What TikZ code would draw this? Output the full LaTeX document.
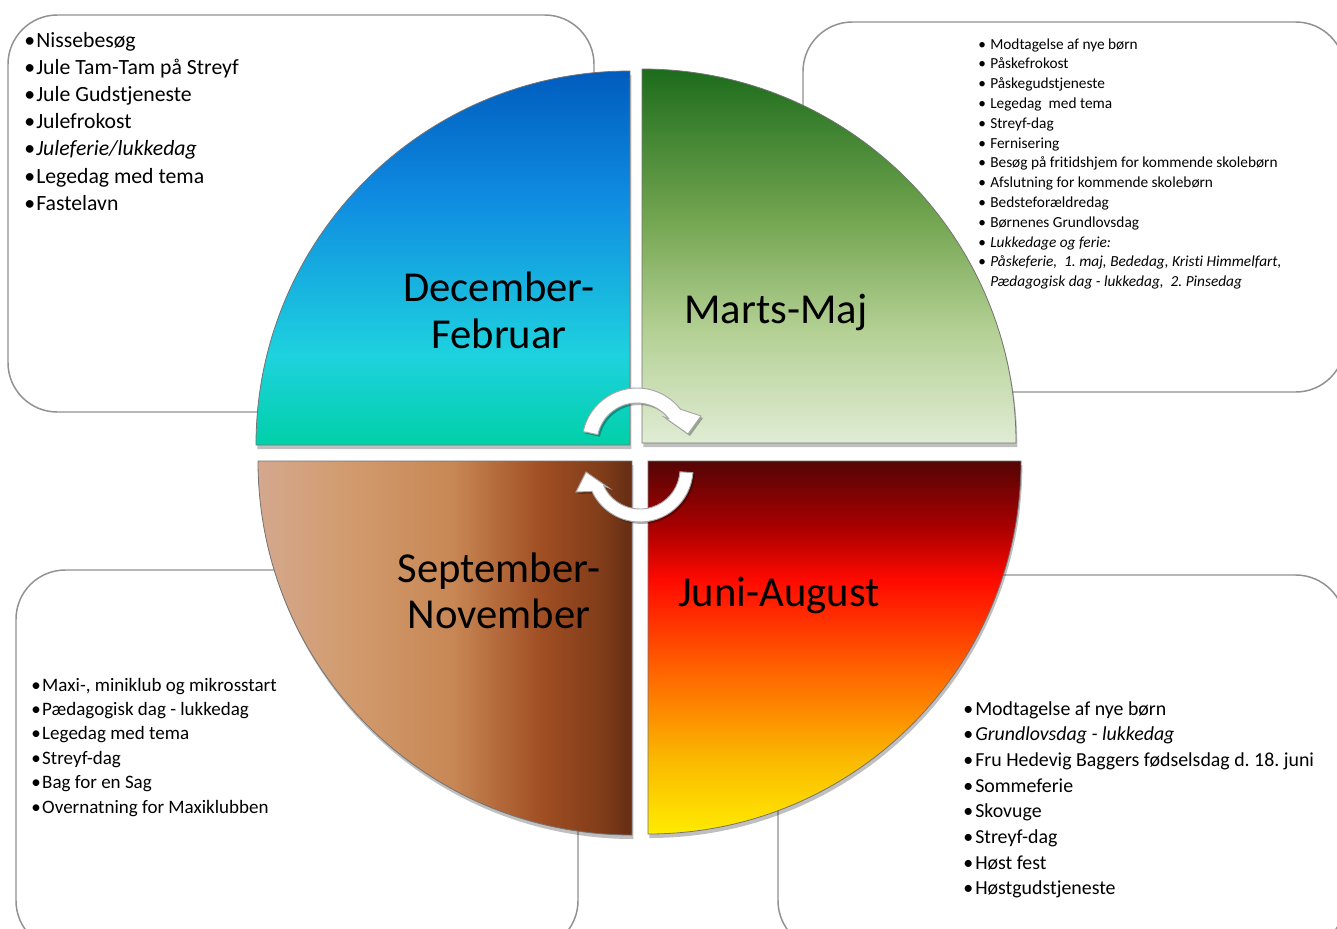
\documentclass[tikz,border=0pt]{standalone}
\usepackage{fontspec}
\setmainfont{Carlito}[Ligatures=NoCommon]
\usetikzlibrary{shadows,calc}
\frenchspacing
\definecolor{tlA}{RGB}{0,208,168}
\definecolor{tlB}{RGB}{30,210,222}
\definecolor{tlC}{RGB}{15,140,225}
\definecolor{tlD}{RGB}{0,92,190}
\definecolor{trA}{RGB}{224,236,212}
\definecolor{trB}{RGB}{180,208,148}
\definecolor{trC}{RGB}{115,165,80}
\definecolor{trD}{RGB}{28,108,28}
\definecolor{brA}{RGB}{255,235,0}
\definecolor{brB}{RGB}{250,185,0}
\definecolor{brC}{RGB}{255,110,0}
\definecolor{brD}{RGB}{255,10,0}
\definecolor{brE}{RGB}{170,0,0}
\definecolor{brF}{RGB}{85,5,5}
\definecolor{blA}{RGB}{212,168,142}
\definecolor{blB}{RGB}{210,155,110}
\definecolor{blC}{RGB}{200,135,85}
\definecolor{blD}{RGB}{160,78,35}
\definecolor{blE}{RGB}{128,60,25}
\definecolor{blF}{RGB}{100,45,20}
\definecolor{boxgray}{RGB}{145,145,145}
\pgfdeclareverticalshading{tlshade}{100bp}{color(0bp)=(tlA); color(25bp)=(tlA); color(37bp)=(tlB); color(58bp)=(tlC); color(75bp)=(tlD); color(100bp)=(tlD)}
\pgfdeclareverticalshading{trshade}{100bp}{color(0bp)=(trA); color(25bp)=(trA); color(40bp)=(trB); color(55bp)=(trC); color(75bp)=(trD); color(100bp)=(trD)}
\pgfdeclareverticalshading{brshade}{100bp}{color(0bp)=(brA); color(25bp)=(brA); color(35bp)=(brB); color(45.5bp)=(brC); color(59bp)=(brD); color(66bp)=(brE); color(75bp)=(brF); color(100bp)=(brF)}
\pgfdeclarehorizontalshading{blshade}{100bp}{color(0bp)=(blA); color(25bp)=(blA); color(37bp)=(blB); color(51bp)=(blC); color(63bp)=(blD); color(71bp)=(blE); color(75bp)=(blF); color(100bp)=(blF)}
\begin{document}
\begin{tikzpicture}[x=0.75pt,y=-0.75pt,
  box/.style={draw=boxgray, line width=1.1pt, rounded corners=37pt},
  quad/.style={draw=black!55, line width=0.6pt,
    drop shadow={shadow xshift=1pt, shadow yshift=-3pt, opacity=0.25, fill=black}},
  cyc/.style={fill=white, draw=black!35, line width=0.7pt,
    drop shadow={shadow xshift=1.5pt, shadow yshift=-1.5pt, opacity=0.3, fill=black}},
  title/.style={font=\fontsize{32}{36}\selectfont, anchor=base, inner sep=0pt},
  titlew/.style={font=\fontsize{32}{36}\selectfont, anchor=base west, inner sep=0pt},
  tli/.style={font=\fontsize{16.3}{19}\selectfont, anchor=base west, inner sep=0pt},
  tri/.style={font=\fontsize{11.5}{14}\selectfont, anchor=base west, inner sep=0pt},
  bli/.style={font=\fontsize{14.25}{17}\selectfont, anchor=base west, inner sep=0pt},
  bri/.style={font=\fontsize{14.9}{18}\selectfont, anchor=base west, inner sep=0pt}]
\useasboundingbox (0,0) rectangle (1337,928);
\fill[white] (0,0) rectangle (1337,928);
% text boxes
\draw[box] (8,15) rectangle (594,412);
\draw[box] (803,22) rectangle (1345,392);
\draw[box] (16,570) rectangle (578,950);
\draw[box] (778,575) rectangle (1345,950);
% quadrants
\path[quad, shading=tlshade] (630,445) -- (256,445) arc[start angle=180, end angle=270, radius=374] -- cycle;
\path[quad, shading=trshade] (642,443) -- (642,69) arc[start angle=270, end angle=360, radius=374] -- cycle;
\path[quad, shading=blshade] (632,461) -- (632,835) arc[start angle=90, end angle=180, radius=374] -- cycle;
\path[quad, shading=brshade] (648,461) -- (1021,461) arc[start angle=0, end angle=90, radius=373] -- cycle;
% titles
\node[title] (dec1) at (499,301) {December-};
\node[title] (dec2) at (499,348) {Februar};
\node[titlew] (mar) at (684,323) {Marts-Maj};
\node[title] (sep1) at (499,582) {September-};
\node[title] (sep2) at (499,628) {November};
\node[titlew] (jun) at (678,606) {Juni-August};
% cycle arrows
\path[cyc] (637,443) ++(192:55) arc[start angle=192, end angle=322, radius=55]
  -- (701,416) -- (688,434) -- (664,417) -- ($(637,443)+(322:40)$)
  arc[start angle=322, end angle=192, radius=40] -- cycle;
\path[cyc] (640,469) ++(4:53) arc[start angle=4, end angle=155, radius=53]
  -- (576,492) -- (586,472) -- (609,488) -- ($(640,469)+(155:40)$)
  arc[start angle=155, end angle=4, radius=40] -- cycle;
% lists
\foreach \t [count=\i] in {{Nissebesøg},{Jule Tam-Tam på Streyf},{Jule Gudstjeneste},{Julefrokost},{\itshape Juleferie/lukkedag},{Legedag med tema},{Fastelavn}}
  \node[tli] (tl\i) at (24,{47+27.2*(\i-1)}) {\makebox[9pt][l]{•}\t};
\foreach \t [count=\i] in {{Modtagelse af nye børn},{Påskefrokost},{Påskegudstjeneste},{Legedag\ \ med tema},{Streyf-dag},{Fernisering},{Besøg på fritidshjem for kommende skolebørn},{Afslutning for kommende skolebørn},{Bedsteforældredag},{Børnenes Grundlovsdag},{\itshape Lukkedage og ferie:},{\itshape Påskeferie,\ \ 1. maj, Bededag, Kristi Himmelfart,}}
  \node[tri] (tr\i) at (978,{49+19.8*(\i-1)}) {\makebox[9pt][l]{•}\t};
\node[tri] (tr13) at (990,{49+19.8*12}) {\itshape Pædagogisk dag - lukkedag,\ \ 2. Pinsedag};
\foreach \t [count=\i] in {{Maxi-, miniklub og mikrosstart},{Pædagogisk dag - lukkedag},{Legedag med tema},{Streyf-dag},{Bag for en Sag},{Overnatning for Maxiklubben}}
  \node[bli] (bl\i) at (31,{691+24.4*(\i-1)}) {\makebox[8.25pt][l]{•}\t};
\foreach \t [count=\i] in {{Modtagelse af nye børn},{\itshape Grundlovsdag - lukkedag},{Fru Hedevig Baggers fødselsdag d. 18. juni},{Sommeferie},{Skovuge},{Streyf-dag},{Høst fest},{Høstgudstjeneste}}
  \node[bri] (br\i) at (963,{715+25.7*(\i-1)}) {\makebox[9pt][l]{•}\t};
\end{tikzpicture}
\end{document}
